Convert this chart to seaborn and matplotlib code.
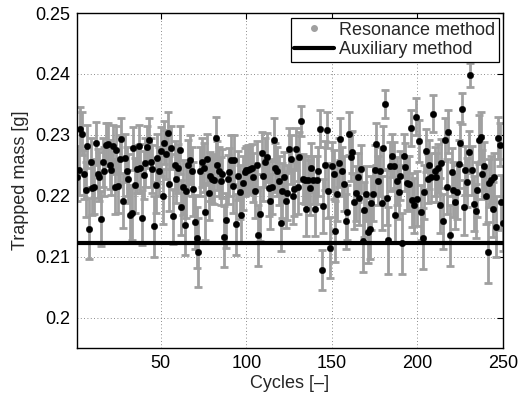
import matplotlib
matplotlib.use("Agg")
import matplotlib.pyplot as plt
from matplotlib.lines import Line2D
import numpy as np
import pandas as pd
import seaborn as sns

# ---------------- data ----------------
mass = [
    0.2231, 0.2242, 0.2310, 0.2302, 0.2235, 0.2210, 0.2281, 0.2146, 0.2255, 0.2213,
    0.2215, 0.2286, 0.2236, 0.2231, 0.2162, 0.2255, 0.2240, 0.2284, 0.2285, 0.2251,
    0.2242, 0.2281, 0.2215, 0.2275, 0.2216, 0.2260, 0.2293, 0.2192, 0.2262, 0.2240,
    0.2228, 0.2168, 0.2172, 0.2278, 0.2217, 0.2244, 0.2281, 0.2245, 0.2164, 0.2234,
    0.2254, 0.2280, 0.2292, 0.2255, 0.2244, 0.2150, 0.2217, 0.2262, 0.2240, 0.2273,
    0.2199, 0.2287, 0.2268, 0.2303, 0.2220, 0.2279, 0.2166, 0.2250, 0.2228, 0.2245,
    0.2275, 0.2181, 0.2214, 0.2152, 0.2208, 0.2251, 0.2259, 0.2240, 0.2211, 0.2157,
    0.2131, 0.2107, 0.2240, 0.2255, 0.2246, 0.2173, 0.2261, 0.2205, 0.2232, 0.2228,
    0.2226, 0.2295, 0.2250, 0.2240, 0.2224, 0.2236, 0.2133, 0.2160, 0.2227, 0.2239,
    0.2259, 0.2216, 0.2259, 0.2153, 0.2233, 0.2206, 0.2168, 0.2221, 0.2239, 0.2242,
    0.2243, 0.2244, 0.2245, 0.2230, 0.2208, 0.2250, 0.2135, 0.2170, 0.2270, 0.2232,
    0.2255, 0.2263, 0.2212, 0.2191, 0.2215, 0.2292, 0.2246, 0.2240, 0.2225, 0.2155,
    0.2208, 0.2231, 0.2192, 0.2205, 0.2276, 0.2260, 0.2199, 0.2211, 0.2277, 0.2215,
    0.2264, 0.2323, 0.2228, 0.2226, 0.2179, 0.2226, 0.2213, 0.2246, 0.2226, 0.2179,
    0.2226, 0.2240, 0.2310, 0.2078, 0.2183, 0.2250, 0.2308, 0.2208, 0.2115, 0.2248,
    0.2235, 0.2142, 0.2203, 0.2254, 0.2293, 0.2240, 0.2220, 0.2158, 0.2173, 0.2302,
    0.2264, 0.2272, 0.2190, 0.2204, 0.2230, 0.2197, 0.2244, 0.2125, 0.2177, 0.2203,
    0.2140, 0.2146, 0.2188, 0.2203, 0.2243, 0.2285, 0.2225, 0.2240, 0.2188, 0.2279,
    0.2350, 0.2197, 0.2127, 0.2248, 0.2266, 0.2249, 0.2168, 0.2224, 0.2206, 0.2233,
    0.2122, 0.2266, 0.2247, 0.2221, 0.2220, 0.2311, 0.2193, 0.2184, 0.2330, 0.2195,
    0.2290, 0.2173, 0.2130, 0.2206, 0.2274, 0.2228, 0.2251, 0.2230, 0.2335, 0.2240,
    0.2230, 0.2245, 0.2184, 0.2253, 0.2158, 0.2292, 0.2215, 0.2305, 0.2135, 0.2239,
    0.2210, 0.2190, 0.2206, 0.2252, 0.2286, 0.2343, 0.2181, 0.2242, 0.2222, 0.2272,
    0.2398, 0.2242, 0.2187, 0.2175, 0.2210, 0.2292, 0.2297, 0.2235, 0.2248, 0.2199,
    0.2107, 0.2221, 0.2226, 0.2178, 0.2230, 0.2149, 0.2295, 0.2284, 0.2189, 0.2155,
]
mass_err = [
    0.0040, 0.0040, 0.0035, 0.0035, 0.0040, 0.0045, 0.0035, 0.0050, 0.0040, 0.0045,
    0.0045, 0.0035, 0.0040, 0.0040, 0.0045, 0.0040, 0.0040, 0.0035, 0.0035, 0.0040,
    0.0040, 0.0035, 0.0045, 0.0040, 0.0045, 0.0040, 0.0035, 0.0045, 0.0040, 0.0040,
    0.0040, 0.0045, 0.0045, 0.0035, 0.0045, 0.0040, 0.0035, 0.0040, 0.0045, 0.0040,
    0.0040, 0.0035, 0.0035, 0.0040, 0.0040, 0.0050, 0.0045, 0.0040, 0.0040, 0.0040,
    0.0045, 0.0035, 0.0040, 0.0035, 0.0045, 0.0035, 0.0045, 0.0040, 0.0040, 0.0040,
    0.0040, 0.0045, 0.0045, 0.0050, 0.0045, 0.0040, 0.0040, 0.0040, 0.0045, 0.0045,
    0.0050, 0.0057, 0.0040, 0.0040, 0.0040, 0.0045, 0.0040, 0.0045, 0.0040, 0.0040,
    0.0040, 0.0035, 0.0040, 0.0040, 0.0040, 0.0040, 0.0050, 0.0045, 0.0040, 0.0040,
    0.0040, 0.0045, 0.0040, 0.0050, 0.0040, 0.0045, 0.0045, 0.0045, 0.0040, 0.0040,
    0.0040, 0.0040, 0.0040, 0.0040, 0.0045, 0.0040, 0.0050, 0.0045, 0.0035, 0.0040,
    0.0040, 0.0040, 0.0045, 0.0045, 0.0045, 0.0035, 0.0040, 0.0040, 0.0040, 0.0045,
    0.0045, 0.0040, 0.0045, 0.0045, 0.0035, 0.0040, 0.0045, 0.0045, 0.0035, 0.0045,
    0.0040, 0.0025, 0.0040, 0.0040, 0.0045, 0.0040, 0.0045, 0.0040, 0.0040, 0.0045,
    0.0040, 0.0040, 0.0030, 0.0033, 0.0045, 0.0040, 0.0030, 0.0045, 0.0050, 0.0040,
    0.0040, 0.0050, 0.0045, 0.0040, 0.0035, 0.0040, 0.0045, 0.0045, 0.0045, 0.0035,
    0.0040, 0.0035, 0.0045, 0.0045, 0.0040, 0.0045, 0.0040, 0.0050, 0.0045, 0.0045,
    0.0050, 0.0050, 0.0045, 0.0045, 0.0040, 0.0035, 0.0040, 0.0040, 0.0045, 0.0035,
    0.0023, 0.0045, 0.0055, 0.0040, 0.0035, 0.0040, 0.0045, 0.0040, 0.0045, 0.0040,
    0.0050, 0.0035, 0.0040, 0.0045, 0.0045, 0.0030, 0.0045, 0.0045, 0.0030, 0.0045,
    0.0035, 0.0045, 0.0050, 0.0045, 0.0035, 0.0040, 0.0040, 0.0040, 0.0031, 0.0040,
    0.0040, 0.0040, 0.0045, 0.0040, 0.0045, 0.0035, 0.0045, 0.0035, 0.0050, 0.0040,
    0.0045, 0.0045, 0.0045, 0.0040, 0.0035, 0.0026, 0.0045, 0.0040, 0.0040, 0.0035,
    0.0020, 0.0040, 0.0045, 0.0045, 0.0045, 0.0040, 0.0040, 0.0040, 0.0040, 0.0045,
    0.0050, 0.0040, 0.0040, 0.0045, 0.0040, 0.0050, 0.0035, 0.0035, 0.0045, 0.0045,
]
cycles = list(range(1, len(mass) + 1))
aux_mass = 0.2122

x_ticks = [50, 100, 150, 200, 250]
y_ticks = [0.20, 0.21, 0.22, 0.23, 0.24, 0.25]
y_tick_labels = ["0.2", "0.21", "0.22", "0.23", "0.24", "0.25"]

df = pd.DataFrame({"Cycle": cycles, "Mass": mass, "Err": mass_err})

# ---------------- style ----------------
sns.set_style("white")
plt.rcParams["font.family"] = ["Liberation Sans", "DejaVu Sans"]
plt.rcParams["font.size"] = 13

GREY = "#a0a0a0"

fig = plt.figure(figsize=(5.19, 3.96), dpi=100)
ax = fig.add_axes([77 / 519, 1 - 348 / 396, (503 - 77) / 519, (348 - 13) / 396])

ax.errorbar(df["Cycle"], df["Mass"], yerr=df["Err"], fmt="none",
            ecolor=GREY, elinewidth=2.0, capsize=3.0, capthick=2.0, zorder=2)
sns.scatterplot(data=df, x="Cycle", y="Mass", ax=ax, color="black",
                s=22, edgecolor="black", linewidth=0.3, zorder=3, legend=False)
ax.axhline(aux_mass, color="black", linewidth=3.0, zorder=4)

ax.set_xlim(1, 250)
ax.set_ylim(0.195, 0.25)
ax.set_xticks(x_ticks)
ax.set_yticks(y_ticks)
ax.set_yticklabels(y_tick_labels)
ax.set_xlabel("Cycles [–]", fontsize=13, labelpad=2)
ax.set_ylabel("Trapped mass [g]", fontsize=13, labelpad=4)

ax.grid(True, linestyle=(0, (1, 3)), color="#666666", linewidth=0.6)
ax.tick_params(direction="in", length=4, width=0.8, top=True, right=True,
               labelsize=13, pad=5, colors="black")
for sp in ax.spines.values():
    sp.set_color("black")
    sp.set_linewidth(1.0)

handles = [
    Line2D([], [], linestyle="none", marker="o", markersize=4,
           color=GREY, markeredgecolor=GREY),
    Line2D([], [], color="black", linewidth=3.0),
]
leg = ax.legend(handles, ["Resonance method", "Auxiliary method"],
                loc="upper right", bbox_to_anchor=(1 - 4 / 426, 1 - 5 / 335),
                borderaxespad=0, fancybox=False, framealpha=1, edgecolor="black",
                handlelength=2.2, handletextpad=0.3, borderpad=0.2,
                labelspacing=0.15, fontsize=13)
leg.get_frame().set_linewidth(0.9)

fig.savefig("out.png", dpi=100)
